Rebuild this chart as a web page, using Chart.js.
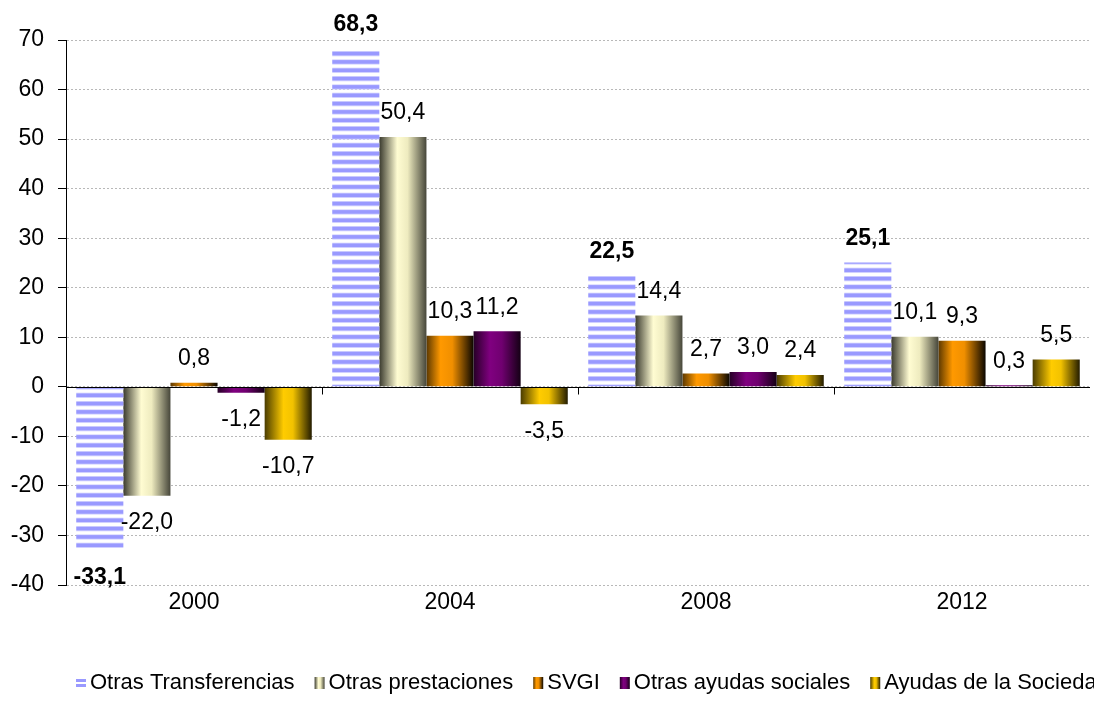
<!DOCTYPE html>
<html lang="es">
<head>
<meta charset="UTF-8">
<title>Variación de transferencias por año</title>
<script src="https://cdn.jsdelivr.net/npm/chart.js"></script>
<style>
    body { margin: 0; background: #fff; }
    #contenedor { width: 1094px; height: 704px; }
</style>
</head>
<body>
<div id="contenedor">
    <canvas id="grafico"></canvas>
</div>
<script>
const anios = ['2000', '2004', '2008', '2012'];
const nombresSeries = ['Otras Transferencias', 'Otras prestaciones', 'SVGI', 'Otras ayudas sociales', 'Ayudas de la Socieda'];
const otrasTransferencias = [-33.1, 68.3, 22.5, 25.1];
const otrasPrestaciones = [-22.0, 50.4, 14.4, 10.1];
const svgi = [0.8, 10.3, 2.7, 9.3];
const otrasAyudas = [-1.2, 11.2, 3.0, 0.3];
const ayudasSociedad = [-10.7, -3.5, 2.4, 5.5];
const ejeYmin = -40, ejeYmax = 70, ejeYpaso = 10;

const fuente = "'Liberation Sans', Arial, sans-serif";
const PORC_CAT = 0.92;

// degradados horizontales tipo Excel (izquierda -> derecha)
const degradados = [
    null,
    [[0, '#3a3a2e'], [0.38, '#fffcd2'], [0.6, '#eeebbf'], [1, '#46463a']],
    [[0, '#5c3800'], [0.3, '#ff9900'], [0.55, '#f08f00'], [1, '#0a0600']],
    [[0, '#260026'], [0.35, '#800080'], [0.6, '#700070'], [1, '#140014']],
    [[0, '#4a3c00'], [0.4, '#ffcc00'], [0.6, '#f2c200'], [1, '#231c00']]
];

// rayas horizontales de "Otras Transferencias"
function crearRayas() {
    const c = document.createElement('canvas');
    c.width = 4; c.height = 25;
    const g = c.getContext('2d');
    [0, 8.33, 16.67].forEach(y => {
        g.fillStyle = '#d4d4ff';
        g.fillRect(0, y + 1, 4, 5.3);
        g.fillStyle = '#9999ff';
        g.fillRect(0, y + 1.8, 4, 3.6);
    });
    return g.createPattern(c, 'repeat');
}
const rayas = crearRayas();

function colorBarra(ctx) {
    const ds = ctx.datasetIndex;
    if (ds === 0) return rayas;
    const chart = ctx.chart;
    const x = chart.scales.x;
    if (!x || ctx.dataIndex === undefined || !isFinite(x.left) || x.right === x.left) return degradados[ds][1][1];
    const anchoCat = (x.right - x.left) / anios.length;
    const ancho = anchoCat * PORC_CAT / nombresSeries.length;
    const centro = x.getPixelForValue(ctx.dataIndex);
    const izq = centro - anchoCat * PORC_CAT / 2 + ds * ancho;
    const grad = chart.ctx.createLinearGradient(izq, 0, izq + ancho, 0);
    degradados[ds].forEach(([p, c]) => grad.addColorStop(p, c));
    return grad;
}

function formato(v) {
    return v.toFixed(1).replace('.', ',');
}

const lineaCero = {
    id: 'lineaCero',
    afterDatasetsDraw(chart) {
        const { ctx, chartArea, scales: { x, y } } = chart;
        const y0 = Math.round(y.getPixelForValue(0)) + 0.5;
        ctx.save();
        ctx.strokeStyle = '#000';
        ctx.lineWidth = 1;
        ctx.beginPath();
        ctx.moveTo(chartArea.left, y0);
        ctx.lineTo(chartArea.right, y0);
        const anchoCat = (x.right - x.left) / anios.length;
        for (let i = 1; i < anios.length; i++) {
            const xi = Math.round(x.left + i * anchoCat) + 0.5;
            ctx.moveTo(xi, y0);
            ctx.lineTo(xi, y0 + 7);
        }
        ctx.stroke();
        ctx.restore();
    }
};

const etiquetas = {
    id: 'etiquetas',
    afterDatasetsDraw(chart) {
        const ctx = chart.ctx;
        ctx.save();
        ctx.fillStyle = '#000';
        ctx.textAlign = 'center';
        ctx.textBaseline = 'middle';
        chart.data.datasets.forEach((ds, i) => {
            const meta = chart.getDatasetMeta(i);
            ctx.font = (i === 0 ? 'bold ' : '') + '23px ' + fuente;
            meta.data.forEach((barra, j) => {
                const v = ds.data[j];
                const yy = v >= 0 ? barra.y - 24 : barra.y + 27;
                ctx.fillText(formato(v), barra.x, yy);
            });
        });
        ctx.restore();
    }
};

// leyenda dibujada a mano para imitar las cajitas estrechas de Excel
const leyenda = {
    id: 'leyenda',
    afterDraw(chart) {
        const ctx = chart.ctx;
        ctx.save();
        ctx.font = '22px ' + fuente;
        ctx.textBaseline = 'middle';
        ctx.textAlign = 'left';
        let x = 76;
        const yc = chart.height - 21;
        chart.data.datasets.forEach((ds, i) => {
            const caja = { x: x, y: yc - 6, w: 10, h: 12 };
            if (i === 0) {
                ctx.fillStyle = '#9999ff';
                ctx.fillRect(caja.x, caja.y + 2, caja.w, 3);
                ctx.fillRect(caja.x, caja.y + 7, caja.w, 3);
            } else {
                const g = ctx.createLinearGradient(caja.x, 0, caja.x + caja.w, 0);
                degradados[i].forEach(([p, c]) => g.addColorStop(p, c));
                ctx.fillStyle = g;
                ctx.fillRect(caja.x, caja.y, caja.w, caja.h);
            }
            ctx.fillStyle = '#000';
            ctx.fillText(ds.label, x + 14, yc);
            x += 14 + ctx.measureText(ds.label).width + 20;
        });
        ctx.restore();
    }
};

const valores = [otrasTransferencias, otrasPrestaciones, svgi, otrasAyudas, ayudasSociedad];

new Chart(document.getElementById('grafico'), {
    type: 'bar',
    data: {
        labels: anios,
        datasets: nombresSeries.map((nombre, i) => ({
            label: nombre,
            data: valores[i],
            backgroundColor: colorBarra,
            borderWidth: 0,
            categoryPercentage: PORC_CAT,
            barPercentage: 1
        }))
    },
    options: {
        responsive: true,
        maintainAspectRatio: false,
        animation: false,
        events: [],
        layout: { padding: { top: 40, right: 4, bottom: 79, left: 0 } },
        plugins: {
            legend: { display: false },
            tooltip: { enabled: false }
        },
        scales: {
            x: {
                grid: { display: false, drawTicks: false },
                border: { display: false },
                ticks: { color: '#000', font: { family: fuente, size: 23 }, padding: 4 },
                afterFit(scale) { scale.height = 40; }
            },
            y: {
                min: ejeYmin,
                max: ejeYmax,
                ticks: {
                    stepSize: ejeYpaso,
                    color: '#000',
                    padding: 14,
                    font: { family: fuente, size: 23 }
                },
                grid: {
                    color: '#b8b8b8',
                    tickColor: '#000',
                    tickLength: 8
                },
                border: { color: '#000', width: 1, dash: [2, 2] },
                afterFit(scale) { scale.width = 66; }
            }
        }
    },
    plugins: [lineaCero, etiquetas, leyenda]
});
</script>
</body>
</html>
